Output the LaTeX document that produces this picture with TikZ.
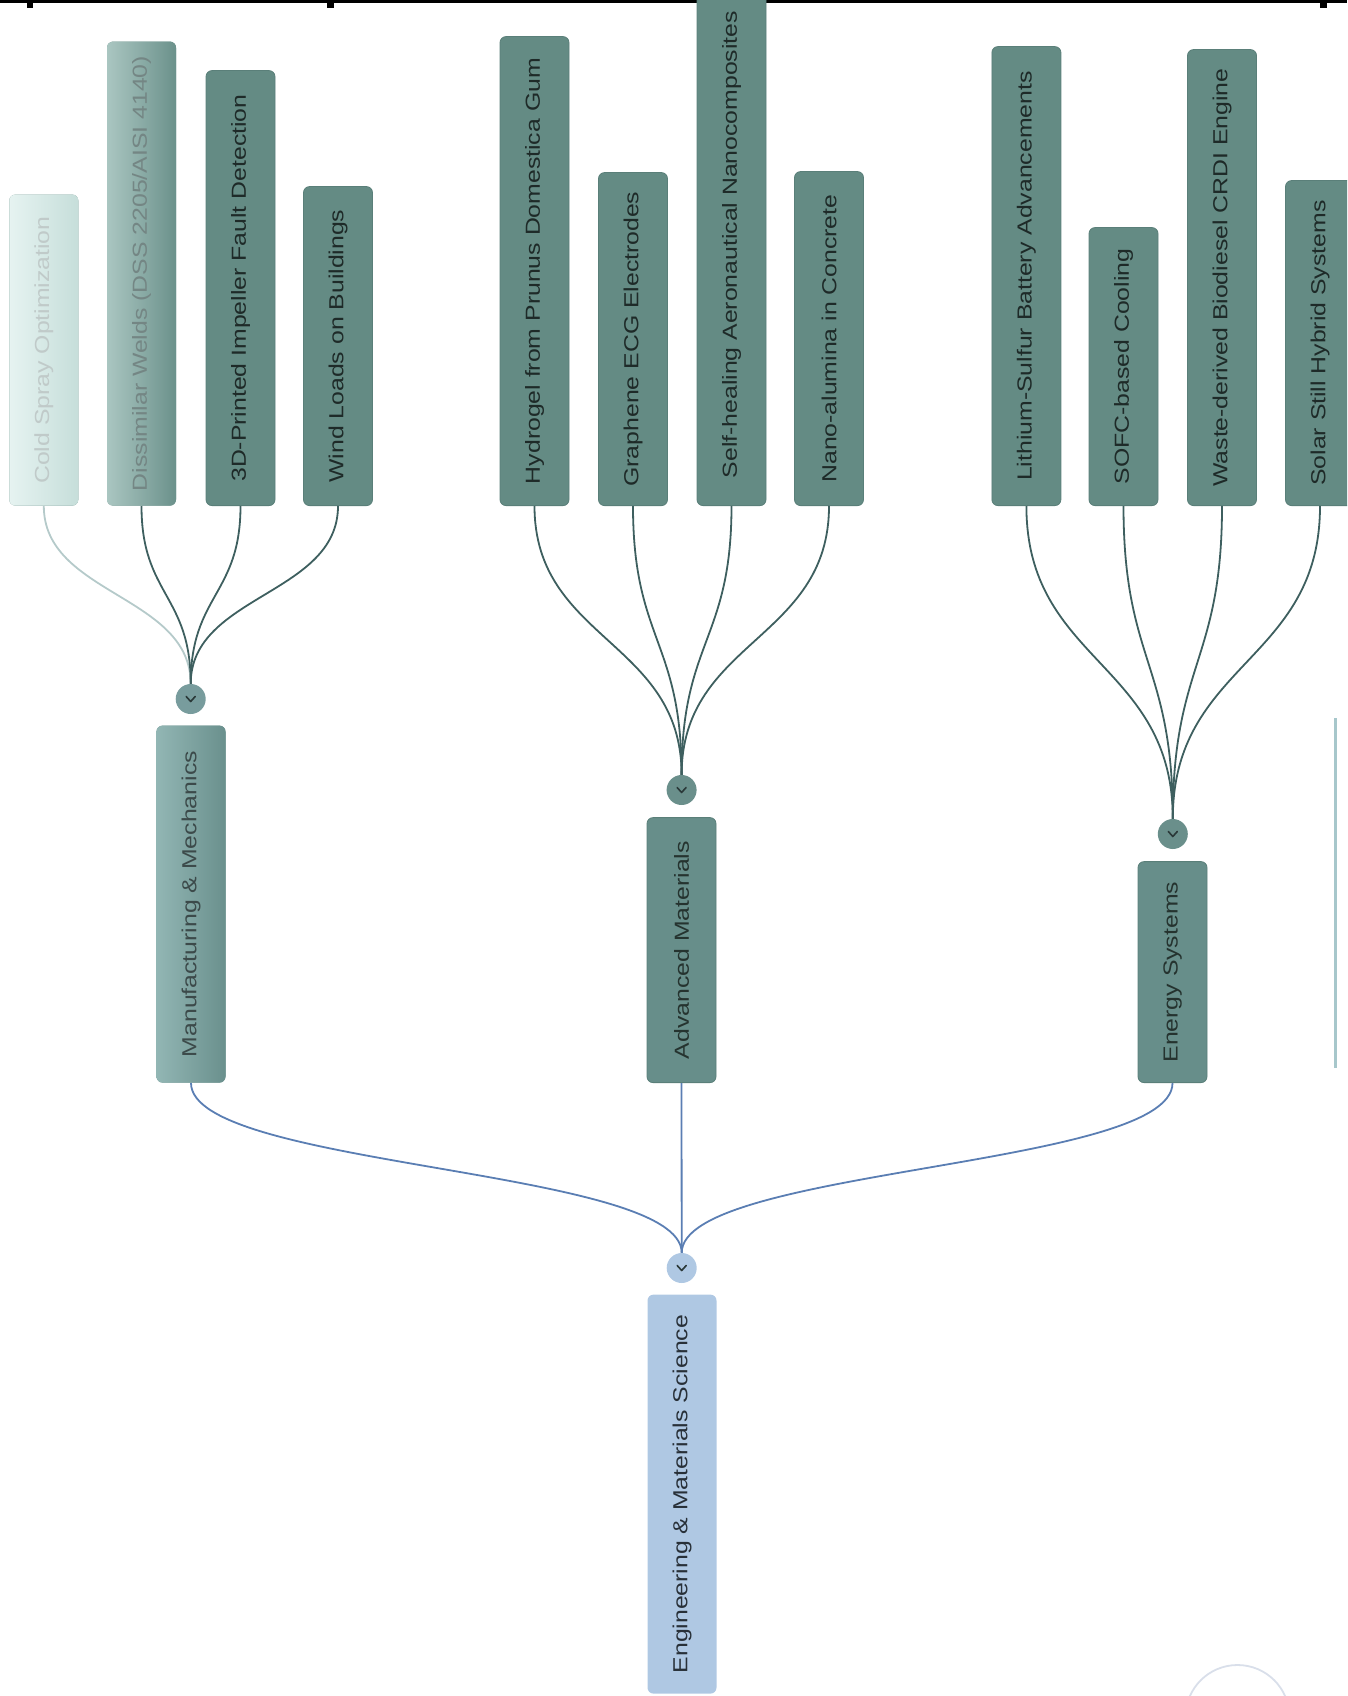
\documentclass[tikz,border=0pt]{standalone}
\usepackage{fontspec}
\usepackage{color}
\usepackage{tikz}
\usetikzlibrary{calc}

\newfontfamily\boxfont{Liberation Sans}

\definecolor{leafc}{HTML}{648B84}
\definecolor{leafedge}{HTML}{5A7F79}
\definecolor{leaftxt}{HTML}{1E2A28}
\definecolor{midc}{HTML}{678E8A}
\definecolor{midtxt}{HTML}{25332F}
\definecolor{coldl}{HTML}{E6F3F1}
\definecolor{coldr}{HTML}{C6DEDA}
\definecolor{coldtxt}{HTML}{C0CAC9}
\definecolor{dissl}{HTML}{AAC6C1}
\definecolor{dissr}{HTML}{6B918B}
\definecolor{disstxt}{HTML}{748684}
\definecolor{manl}{HTML}{92B6B4}
\definecolor{manr}{HTML}{6A908D}
\definecolor{mantxt}{HTML}{3C4A4A}
\definecolor{rootc}{HTML}{AFC8E3}
\definecolor{roottxt}{HTML}{283038}
\definecolor{linkc}{HTML}{3E5F5F}
\definecolor{coldlink}{HTML}{B5CACA}
\definecolor{trunkc}{HTML}{5A7EB3}
\definecolor{togc}{HTML}{6A8F8B}
\definecolor{togfade}{HTML}{789C9D}
\definecolor{chevc}{HTML}{2A3838}
\definecolor{edgeline}{HTML}{A7C7CB}
\definecolor{ringc}{HTML}{D9DFEA}

\newcommand{\vlabel}[1]{\rotatebox{90}{\scalebox{1}[0.82]{#1}}}
% curved connector, vertical at both ends
\newcommand{\bendto}[3]{%
  \path ($(#2)!.5!(#3)$) coordinate (midpt);
  \draw[#1] (#2) .. controls (#2 |- midpt) and (#3 |- midpt) .. (#3);}

\begin{document}
\begin{tikzpicture}
        [%%%%%%%%%%%%%%%%%%%%%%%%%%%%%%
        x=1pt, y=-1pt,
        leaf/.style={rectangle, rounded corners=6pt, fill=leafc, draw=leafedge,
          line width=0.8pt, minimum width=69pt, inner sep=0pt, text=leaftxt,
          font=\boxfont\fontsize{24.8}{26}\selectfont},
        faded/.style={leaf, draw=none, left color=coldl, right color=coldr, text=coldtxt},
        half/.style={leaf, draw=none, left color=dissl, right color=dissr, text=disstxt},
        branch/.style={leaf, fill=midc, text=midtxt},
        toggle/.style={circle, fill=togc, minimum size=30pt, inner sep=0pt},
        link/.style={draw=linkc, line width=1.8pt},
        trunk/.style={draw=trunkc, line width=1.8pt},
        chev/.style={draw=chevc, line width=1.6pt, line cap=round, line join=round},
        ]%%%%%%%%%%%%%%%%%%%%%%%%%%%%%%
        \useasboundingbox (0,0) rectangle (1347,1696);
        \clip (0,0) rectangle (1347,1696);
        % cut-off heading rule
        \fill[black] (0,0) rectangle (1347,2.6);
        \fill[black] (27,0) rectangle (33,8);
        \fill[black] (327,0) rectangle (334,8);
        \fill[black] (1320,0) rectangle (1327,8);

        % leaves, all ending at y=506
        \node[faded, minimum height=311, anchor=south] (l1) at (43.8,506)
          {\vlabel{Cold Spray Optimization}};
        \node[half, minimum height=464, anchor=south] (l2) at (141.5,506)
          {\vlabel{Dissimilar Welds (DSS 2205/AISI 4140)}};
        \foreach \n/\x/\t/\txt in {%
            l3/240.5/71/{3D-Printed Impeller Fault Detection},
            l4/338/187/{Wind Loads on Buildings},
            l5/534.5/37/{Hydrogel from Prunus Domestica Gum},
            l6/633/173/{Graphene ECG Electrodes},
            l7/731.5/-16/{Self-healing Aeronautical Nanocomposites},
            l8/829/172/{Nano-alumina in Concrete},
            l9/1026.4/47/{Lithium-Sulfur Battery Advancements},
            l10/1123.5/228/{SOFC-based Cooling},
            l11/1222/50/{Waste-derived Biodiesel CRDI Engine},
            l12/1320/181/{Solar Still Hybrid Systems}}{
          \node[leaf, minimum height=506-\t, anchor=south] (\n) at (\x,506) {\vlabel{\txt}};
        }

        % toggles
        \node[toggle, fill=togfade] (tog1) at (190.7,699) {};
        \node[toggle] (tog2) at (681.6,790) {};
        \node[toggle] (tog3) at (1172.8,834) {};
        \node[toggle, fill=rootc] (tog0) at (681.7,1268) {};
        \foreach \c in {tog1,tog2,tog3,tog0}{
          \draw[chev] ($(\c.center)+(-4.5,-2.5)$) -- ($(\c.center)+(0,2.5)$)
            -- ($(\c.center)+(4.5,-2.5)$);
        }

        % branches
        \node[branch, draw=none, left color=manl, right color=manr, text=mantxt,
          minimum height=357, anchor=south] (man) at (191,1083)
          {\vlabel{Manufacturing \& Mechanics}};
        \node[branch, minimum height=265, anchor=south] (adv) at (681.5,1083)
          {\vlabel{Advanced Materials}};
        \node[branch, minimum height=221, anchor=south] (ene) at (1172.5,1083)
          {\vlabel{Energy Systems}};
        \node[leaf, fill=rootc, draw=none, text=roottxt, minimum height=399,
          anchor=south] (root) at (682,1694)
          {\vlabel{Engineering \& Materials Science}};

        % connectors
        \bendto{link, draw=coldlink}{l1.south}{tog1.north}
        \foreach \n in {l2,l3,l4}{\bendto{link}{\n.south}{tog1.north}}
        \foreach \n in {l5,l6,l7,l8}{\bendto{link}{\n.south}{tog2.north}}
        \foreach \n in {l9,l10,l11,l12}{\bendto{link}{\n.south}{tog3.north}}
        \foreach \n in {man,adv,ene}{\bendto{trunk}{\n.south}{tog0.north}}

        % partly visible shapes at the edges
        \draw[edgeline, line width=3pt] (1335,718) -- (1335,1068);
        \draw[ringc, line width=1.8pt] (1237.5,1717) circle (52);
      \end{tikzpicture}
\end{document}
